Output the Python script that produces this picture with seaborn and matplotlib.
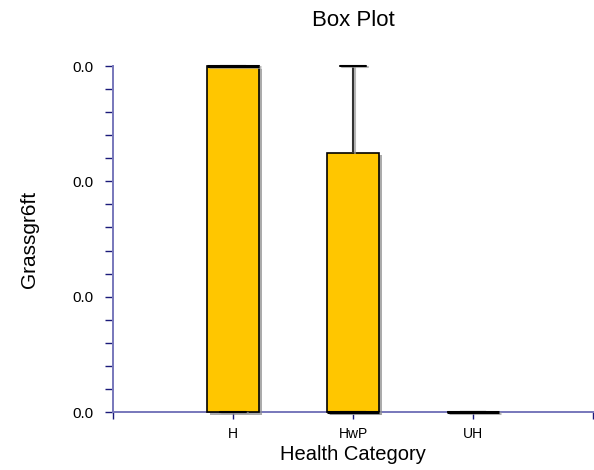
import matplotlib
matplotlib.use("Agg")
import matplotlib.pyplot as plt
import matplotlib.patheffects as pe
from matplotlib.ticker import MultipleLocator, FormatStrFormatter
import seaborn as sns
import pandas as pd

categories = ["H", "HwP", "UH"]
h_values = [0.0, 0.0, 0.03, 0.03, 0.03]
hwp_values = [0.0, 0.0, 0.0, 0.0225, 0.03]
uh_values = [0.0, 0.0, 0.0, 0.0, 0.0]

df = pd.DataFrame({
    "Health Category": ["H"] * len(h_values) + ["HwP"] * len(hwp_values) + ["UH"] * len(uh_values),
    "Grassgr6ft": h_values + hwp_values + uh_values,
})

sns.set_style("white")
plt.rcParams["font.family"] = ["Liberation Sans", "DejaVu Sans"]
plt.rcParams["text.color"] = "black"
plt.rcParams["axes.labelcolor"] = "black"
plt.rcParams["xtick.labelcolor"] = "black"
plt.rcParams["ytick.labelcolor"] = "black"

fig = plt.figure(figsize=(5.94, 4.70), dpi=100)
ax = fig.add_axes([113 / 594, 58 / 470, 480 / 594, 346 / 470])

sns.boxplot(data=df, x="Health Category", y="Grassgr6ft", order=categories, ax=ax,
            color="#FFC600", width=0.43, linecolor="black", linewidth=1.2, saturation=1,
            whis=1.5, fliersize=0,
            medianprops=dict(color="black", linewidth=2.2),
            whiskerprops=dict(color="#333333", linewidth=1.5),
            capprops=dict(color="black", linewidth=1.5))
for p in ax.patches:
    p.set_clip_on(False)
    p.set_zorder(3)
    p.set_path_effects([pe.SimplePatchShadow(offset=(2, -2), shadow_rgbFace="#888888", alpha=0.7), pe.Normal()])
for ln in ax.lines:
    ln.set_clip_on(False)
    ln.set_zorder(4)
    ln.set_path_effects([pe.SimpleLineShadow(offset=(1.5, -1), shadow_color="#999999", alpha=0.7), pe.Normal()])

ax.set_xlim(-1, 3)
ax.set_ylim(0, 0.03)
ax.set_xticks([-1, 0, 1, 2, 3])
ax.set_xticklabels(["", "H", "HwP", "UH", ""])
ax.yaxis.set_major_locator(MultipleLocator(0.01))
ax.yaxis.set_minor_locator(MultipleLocator(0.002))
ax.yaxis.set_major_formatter(FormatStrFormatter("%.1f"))
ax.tick_params(axis="y", which="major", length=6, width=1, color="#1a1a7a", labelsize=11, labelcolor="black", direction="out", left=True, pad=8)
ax.tick_params(axis="y", which="minor", length=6, width=1, color="#1a1a7a", direction="out", left=True)
ax.tick_params(axis="x", which="major", length=5, width=1, color="#1a1a7a", labelsize=10, labelcolor="black", direction="out", bottom=True, pad=6)

for s in ["top", "right"]:
    ax.spines[s].set_visible(False)
for s in ["left", "bottom"]:
    ax.spines[s].set_color("#7777bb")
    ax.spines[s].set_linewidth(1.4)

ax.set_xlabel("Health Category", fontsize=14.5, labelpad=3, color="black")
ax.set_ylabel("Grassgr6ft", fontsize=15, labelpad=24, color="black")
fig.text(353 / 594, 1 - 20 / 470, "Box Plot", ha="center", va="center", fontsize=16, color="black")

fig.savefig("out.png", dpi=100)
